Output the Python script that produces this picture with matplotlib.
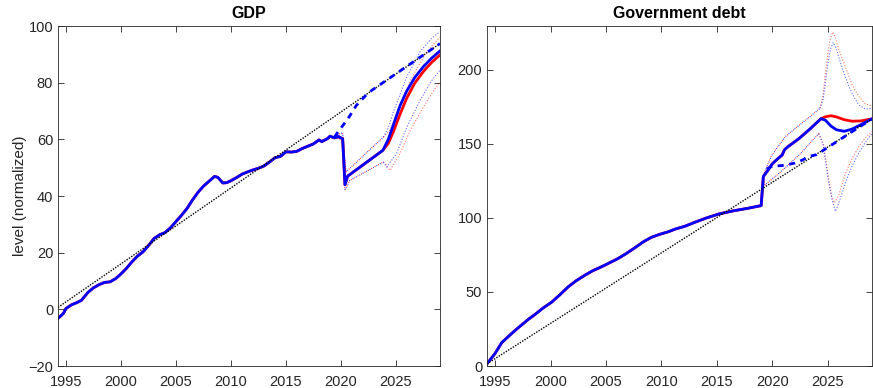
import matplotlib
matplotlib.use("Agg")
import matplotlib.pyplot as plt

plt.rcParams['font.family'] = ['Liberation Sans', 'DejaVu Sans']

XLIM = (1994.27, 2029.0)

# ---------------- GDP (left panel) ----------------
gdp_hist_x = [1994.27, 1994.75, 1995.0, 1995.5, 1996.0, 1996.4, 1997.0, 1997.5, 1998.0, 1998.5,
              1999.0, 1999.5, 2000.0, 2000.5, 2001.0, 2001.5, 2002.0, 2002.5, 2003.0, 2003.5,
              2004.0, 2004.5, 2005.0, 2005.5, 2006.0, 2006.5, 2007.0, 2007.5, 2008.0, 2008.5,
              2008.8, 2009.25, 2009.6, 2010.0, 2010.5, 2011.0, 2011.5, 2012.0, 2012.5, 2013.0,
              2013.5, 2014.0, 2014.5, 2015.0, 2015.5, 2016.0, 2016.5, 2017.0, 2017.5, 2018.0,
              2018.25, 2018.75, 2019.0, 2019.4, 2019.75, 2020.15, 2020.36, 2020.6]
gdp_hist_y = [-3.2, -1.5, 0.3, 1.6, 2.4, 3.2, 6.0, 7.6, 8.7, 9.5,
              9.7, 10.8, 12.5, 14.5, 16.8, 18.8, 20.3, 22.5, 25.0, 26.3,
              27.1, 28.8, 31.0, 33.2, 35.6, 38.6, 41.3, 43.5, 45.2, 46.9,
              46.6, 44.6, 44.7, 45.4, 46.5, 47.7, 48.5, 49.2, 49.8, 50.6,
              52.0, 53.5, 54.0, 55.6, 55.5, 55.8, 56.8, 57.6, 58.4, 59.8,
              59.2, 60.2, 61.1, 60.5, 61.0, 60.2, 44.0, 47.0]
gdp_fc_x = [2023.8, 2024.3, 2024.75, 2025.36, 2025.97, 2026.7, 2027.5, 2028.25, 2029.0]
gdp_blue_fc = [56.1, 60.0, 65.0, 71.8, 77.0, 81.8, 85.7, 88.7, 91.2]
gdp_red_fc = [56.1, 58.6, 62.6, 68.8, 74.5, 79.8, 84.0, 87.2, 89.8]

gdp_up_x = [2019.5, 2020.15, 2020.45, 2023.85]
gdp_up_y = [61.5, 62.3, 48.5, 60.8]
gdp_up_blue_x = [2023.85, 2024.3, 2024.75, 2025.97, 2027.2, 2028.2, 2029.0]
gdp_up_blue_y = [60.8, 64.0, 69.6, 82.0, 91.0, 95.5, 98.0]
gdp_up_red_x = [2023.85, 2024.5, 2025.05, 2026.3, 2027.5, 2028.3, 2029.0]
gdp_up_red_y = [60.8, 63.5, 69.0, 80.8, 89.0, 93.2, 96.1]
gdp_lo_x = [2019.5, 2020.15, 2020.36, 2020.8, 2023.85]
gdp_lo_y = [60.5, 59.8, 42.0, 45.5, 52.0]
gdp_lo_blue_x = [2023.85, 2024.15, 2025.05, 2026.0, 2027.2, 2028.2, 2029.0]
gdp_lo_blue_y = [52.0, 50.2, 55.0, 64.4, 73.8, 80.5, 84.4]
gdp_lo_red_x = [2023.85, 2024.1, 2024.45, 2025.36, 2026.3, 2027.5, 2028.3, 2029.0]
gdp_lo_red_y = [52.0, 51.0, 49.0, 55.0, 63.2, 71.4, 76.5, 80.3]

gdp_dash_x = [2019.4, 2019.8, 2020.25, 2020.75, 2021.4, 2022.3, 2022.8, 2029.0]
gdp_dash_y = [60.8, 63.0, 65.3, 68.0, 72.0, 75.7, 77.3, 93.8]
gdp_trend_x = [1994.27, 2029.0]
gdp_trend_y = [0.7, 93.8]

# ---------------- Government debt (right panel) ----------------
debt_hist_x = [1994.27, 1995.0, 1995.6, 1996.5, 1997.1, 1998.0, 1998.6, 1999.3, 2000.1, 2000.8,
               2001.6, 2002.3, 2003.1, 2003.8, 2004.6, 2005.3, 2006.1, 2006.8, 2007.6, 2008.4,
               2009.1, 2009.8, 2010.6, 2011.3, 2012.1, 2013.0, 2014.0, 2015.2, 2016.5, 2017.8,
               2019.0, 2019.2, 2019.6, 2020.0, 2020.5, 2020.9, 2021.1, 2021.4, 2022.4, 2023.4, 2024.4]
debt_hist_y = [1.5, 8.5, 15.8, 22.0, 25.9, 31.5, 34.8, 39.0, 43.1, 47.8,
               53.5, 57.5, 61.3, 64.3, 67.0, 69.6, 72.6, 75.8, 79.8, 84.0,
               86.9, 88.8, 90.6, 92.6, 94.3, 97.0, 99.8, 102.7, 104.8, 106.5,
               108.3, 128.0, 132.0, 136.5, 140.0, 142.5, 146.0, 148.0, 153.5, 160.0, 167.0]
debt_fc_x = [2024.4, 2024.8, 2025.3, 2025.8, 2026.5, 2027.2, 2028.0, 2029.0]
debt_blue_fc = [167.0, 166.0, 162.0, 159.5, 158.5, 160.0, 163.0, 166.9]
debt_red_fc = [167.0, 168.3, 169.0, 168.2, 166.3, 165.3, 165.5, 166.9]

debt_up_x = [2019.2, 2019.9, 2020.5, 2021.2, 2022.5, 2023.5, 2024.3]
debt_up_y = [129.0, 141.5, 148.0, 155.0, 163.0, 169.0, 174.0]
debt_up_red_x = [2024.3, 2024.55, 2024.95, 2025.2, 2025.45, 2025.7, 2026.0, 2026.6, 2027.2, 2027.8, 2028.4, 2029.0]
debt_up_red_y = [174.0, 181.0, 207.0, 220.0, 225.5, 222.0, 214.0, 202.0, 190.0, 182.0, 177.0, 175.5]
debt_up_blue_x = [2024.3, 2024.6, 2025.0, 2025.25, 2025.5, 2025.8, 2026.1, 2026.6, 2027.2, 2027.8, 2028.4, 2029.0]
debt_up_blue_y = [174.0, 180.0, 203.0, 214.0, 218.5, 214.0, 206.0, 195.0, 184.0, 176.3, 173.5, 174.0]
debt_lo_x = [2019.2, 2019.3, 2020.6, 2022.5, 2024.2]
debt_lo_y = [127.0, 122.0, 130.0, 143.0, 157.0]
debt_lo_red_x = [2024.2, 2024.6, 2025.0, 2025.35, 2025.6, 2026.0, 2026.6, 2027.2, 2027.8, 2028.4, 2029.0]
debt_lo_red_y = [157.0, 150.0, 131.0, 115.0, 110.0, 115.0, 130.0, 140.0, 148.0, 154.0, 158.4]
debt_lo_blue_x = [2024.2, 2024.6, 2025.0, 2025.4, 2025.7, 2026.0, 2026.6, 2027.2, 2027.8, 2028.4, 2029.0]
debt_lo_blue_y = [157.0, 149.0, 128.0, 112.0, 104.4, 110.0, 123.6, 135.0, 143.8, 151.0, 157.0]

debt_dash_x = [2019.5, 2020.0, 2020.6, 2021.2, 2022.0, 2022.7, 2023.3, 2024.0, 2029.0]
debt_dash_y = [133.0, 135.0, 135.2, 135.6, 137.0, 139.0, 141.5, 142.7, 166.9]
debt_trend_x = [1994.27, 2029.0]
debt_trend_y = [1.5, 166.9]

BLUE = '#0000ff'
RED = '#ff0000'
AXC = '#262626'

fig = plt.figure(figsize=(8.73, 3.88), dpi=100)
ax1 = fig.add_axes([58 / 873, 22 / 388, 382 / 873, 340 / 388])
ax2 = fig.add_axes([487 / 873, 22 / 388, 385 / 873, 340 / 388])


def panel(ax, hist_x, hist_y, fc_x, blue_fc, red_fc,
          up_x, up_y, up_bx, up_by, up_rx, up_ry,
          lo_x, lo_y, lo_bx, lo_by, lo_rx, lo_ry,
          dash_x, dash_y, tr_x, tr_y):
    dot_r = dict(lw=0.8, ls=(0, (1, 2.5)), color=RED, alpha=0.7)
    dot_b = dict(lw=0.8, ls=(1.75, (1, 2.5)), color=BLUE, alpha=0.7)
    # shared part of the bands (red and blue dots interleave -> purple look)
    for xs, ys in ((up_x, up_y), (lo_x, lo_y)):
        ax.plot(xs, ys, **dot_r)
        ax.plot(xs, ys, **dot_b)
    dot_r1 = dict(dot_r, ls=(0, (1, 1.6)), alpha=0.55)
    dot_b1 = dict(dot_b, ls=(0, (1, 1.6)), alpha=0.6)
    ax.plot(up_rx, up_ry, **dot_r1)
    ax.plot(lo_rx, lo_ry, **dot_r1)
    ax.plot(up_bx, up_by, **dot_b1)
    ax.plot(lo_bx, lo_by, **dot_b1)
    # main lines
    ax.plot(list(hist_x) + list(fc_x), list(hist_y) + list(red_fc), color=RED, lw=2.0)
    ax.plot(list(hist_x) + list(fc_x), list(hist_y) + list(blue_fc), color=BLUE, lw=2.0)
    ax.plot(tr_x, tr_y, color='black', lw=1.0, ls=(0, (1, 1)))
    ax.plot(dash_x, dash_y, color=BLUE, lw=2.0, ls=(0, (2.2, 2.0)))


panel(ax1, gdp_hist_x, gdp_hist_y, gdp_fc_x, gdp_blue_fc, gdp_red_fc,
      gdp_up_x, gdp_up_y, gdp_up_blue_x, gdp_up_blue_y, gdp_up_red_x, gdp_up_red_y,
      gdp_lo_x, gdp_lo_y, gdp_lo_blue_x, gdp_lo_blue_y, gdp_lo_red_x, gdp_lo_red_y,
      gdp_dash_x, gdp_dash_y, gdp_trend_x, gdp_trend_y)
panel(ax2, debt_hist_x, debt_hist_y, debt_fc_x, debt_blue_fc, debt_red_fc,
      debt_up_x, debt_up_y, debt_up_blue_x, debt_up_blue_y, debt_up_red_x, debt_up_red_y,
      debt_lo_x, debt_lo_y, debt_lo_blue_x, debt_lo_blue_y, debt_lo_red_x, debt_lo_red_y,
      debt_dash_x, debt_dash_y, debt_trend_x, debt_trend_y)

xticks = [1995, 2000, 2005, 2010, 2015, 2020, 2025]
for ax in (ax1, ax2):
    ax.set_xlim(*XLIM)
    ax.set_xticks(xticks)
    ax.tick_params(direction='in', top=True, right=True, length=4, width=0.6,
                   colors=AXC, labelsize=10.5)
    ax.tick_params(axis='x', pad=6.5)
    ax.tick_params(axis='y', pad=3.5)
    for s in ax.spines.values():
        s.set_color(AXC)
        s.set_linewidth(0.6)

ax1.set_ylim(-20, 100)
ax1.set_yticks([-20, 0, 20, 40, 60, 80, 100])
ax2.set_ylim(0, 229.6)
ax2.set_yticks([0, 50, 100, 150, 200])

ax1.set_title('GDP', fontsize=11.5, fontweight='bold', pad=6)
ax2.set_title('Government debt', fontsize=11.5, fontweight='bold', pad=6)
ax1.set_ylabel('level (normalized)', fontsize=11, color=AXC, labelpad=1)

fig.savefig('out.png', dpi=100)
